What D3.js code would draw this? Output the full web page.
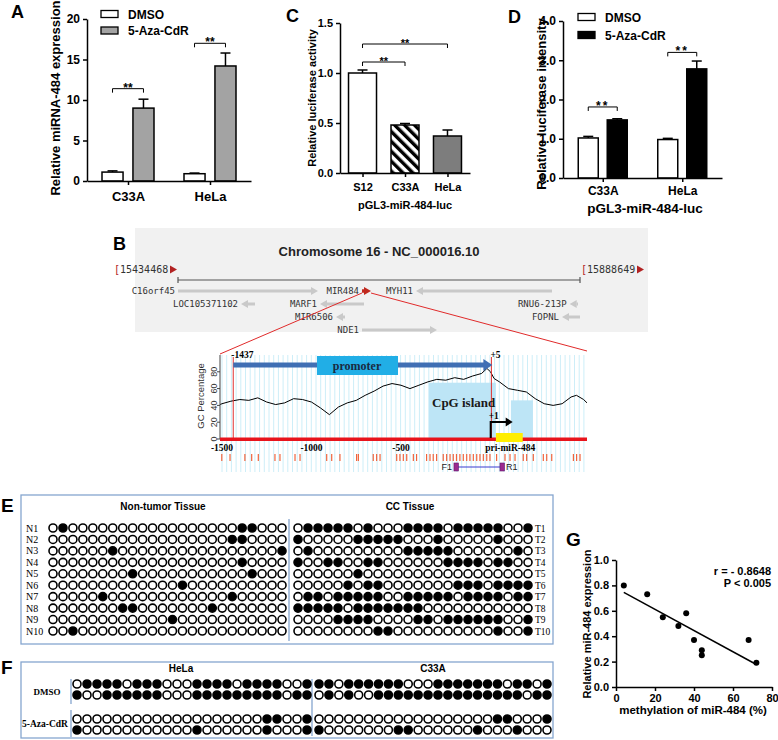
<!DOCTYPE html>
<html>
<head>
<meta charset="utf-8">
<script src="https://cdn.jsdelivr.net/npm/d3@7"></script>
<style>body{margin:0;background:#fff}</style>
</head>
<body>
<div id="chart"></div>
<script>
// ---- panel A: miRNA-484 expression
const aGroups = ["C33A", "HeLa"];
const treatments = ["DMSO", "5-Aza-CdR"];
const aMean = [[1.1, 9.0], [0.9, 14.2]];
const aErr = [[0.15, 1.1], [0.08, 1.6]];
const aTicks = [0, 5, 10, 15, 20];
const aSig = [11.4, 17.0];

// ---- panel C: luciferase activity
const cGroups = ["S12", "C33A", "HeLa"];
const cMean = [1.0, 0.48, 0.37];
const cErr = [0.03, 0.015, 0.06];
const cTicks = [0, 0.5, 1.0, 1.5];
const cSig = [{ a: "S12", b: "C33A", y: 1.11 }, { a: "S12", b: "HeLa", y: 1.29 }];

// ---- panel D: luciferase intensity
const dGroups = ["C33A", "HeLa"];
const dMean = [[1.02, 1.48], [0.98, 2.78]];
const dErr = [[0.04, 0.03], [0.03, 0.2]];
const dTicks = [0, 1, 2, 3, 4];
const dSig = [1.81, 3.2];

// ---- panel B: gene track (genomic coords)
const chrStart = 15434468, chrEnd = 15888649;
const genes = [
  { name: "C16orf45", start: 15434468, end: 15592640, strand: 1, row: 0 },
  { name: "MIR484", start: 15642350, end: 15652520, strand: 1, row: 0 },
  { name: "MYH11", start: 15703360, end: 15857020, strand: -1, row: 0 },
  { name: "LOC105371102", start: 15505650, end: 15521470, strand: -1, row: 1 },
  { name: "MARF1", start: 15594900, end: 15644600, strand: -1, row: 1 },
  { name: "RNU6-213P", start: 15877000, end: 15886400, strand: -1, row: 1 },
  { name: "MIR6506", start: 15613000, end: 15623150, strand: -1, row: 2 },
  { name: "FOPNL", start: 15868300, end: 15888649, strand: -1, row: 2 },
  { name: "NDE1", start: 15642350, end: 15727080, strand: 1, row: 3 }
];
// GC percentage (bp relative to +1)
const gcPos = [-1511, -1500, -1450, -1400, -1350, -1300, -1250, -1200, -1150, -1100,
  -1050, -1000, -950, -900, -850, -800, -750, -700, -650, -600,
  -550, -500, -450, -400, -350, -300, -250, -200, -150, -100,
  -50, -20, 0, 20, 50, 100, 150, 200, 250, 300,
  350, 400, 450, 480, 520, 539];
const gcVal = [41, 42, 45, 47, 46, 49, 44, 41, 43, 48,
  47, 44, 37, 29, 38, 43, 46, 52, 57, 63,
  66, 64, 60, 64, 68, 71, 70, 73, 71, 75,
  78, 84, 80, 72, 68, 60, 58, 56, 48, 42,
  40, 42, 50, 52, 47, 43];
const gcTicks = [0, 20, 40, 60, 80];
const bpTicks = [-1500, -1000, -500];
const cpgSites = [-1501, -1455, -1372, -1334, -1297, -1204, -1176, -1092, -1064, -915, -887, -841,
  -748, -738, -655, -636, -617, -524, -506, -487, -468, -431, -413, -357, -338, -320, -301,
  -264, -245, -226, -208, -190, -171, -152, -133, -115, -96, -77, -59, -40, -21, -3,
  34, 81, 109, 137, 183, 202, 239, 295, 314, 342, 463, 481, 500];
const cpgIslands = [{ from: -344, to: 30, top: 67 }, { from: 114, to: 237, top: 46 }];
const promoter = { from: -1437, to: 5 };
const priMir = { from: 30, to: 180 };
const primers = { f1: -193, r1: 64 };

// ---- panel E: bisulfite sequencing, 1 = methylated
const nLabels = ["N1", "N2", "N3", "N4", "N5", "N6", "N7", "N8", "N9", "N10"];
const tLabels = ["T1", "T2", "T3", "T4", "T5", "T6", "T7", "T8", "T9", "T10"];
const nRows = [
  "010000000000000000011000",
  "000000000000000000110000",
  "000000100000000000000001",
  "000000000000000000010000",
  "000000001000000000001000",
  "000000000000010000000000",
  "000001000000000000100000",
  "000000011000000010000000",
  "000000000000100000000000",
  "001000000000000000000000"
];
const tRows = [
  "011111010001111011111001",
  "100000111110001000001000",
  "010000000001111100000010",
  "100110011000000111101100",
  "000000100000000000000000",
  "000001011000000011101111",
  "011011111001111101111011",
  "111110111111100000000000",
  "000011110000110111111001",
  "000000001100000000001001"
];

// ---- panel F
const fHela = [
  "011110111000111101111001",
  "100111111000111111111011",
  "000000000000000000011001",
  "100000000000100000010001"
];
const fC33a = [
  "110111111000111111101101",
  "010100111111111111111011",
  "000000000000000000110001",
  "100000001100000010001000"
];

// ---- panel G: methylation vs expression
const gMeth = [4, 16, 24, 32, 36, 40, 44, 44, 68, 72];
const gExpr = [0.80, 0.73, 0.55, 0.48, 0.58, 0.37, 0.29, 0.25, 0.37, 0.19];
const gXTicks = [0, 20, 40, 60, 80];
const gYTicks = [0, 0.2, 0.4, 0.6, 0.8, 1.0];

const sans = "'Liberation Sans', Arial, sans-serif";
const serif = "'Liberation Serif', 'Times New Roman', serif";
const mono = "'DejaVu Sans Mono', monospace";

const svg = d3.select("#chart").append("svg")
  .attr("width", 778).attr("height", 740)
  .style("font-family", sans);

const defs = svg.append("defs");
defs.append("pattern")
  .attr("id", "hatch").attr("patternUnits", "userSpaceOnUse")
  .attr("width", 7).attr("height", 7)
  .attr("patternTransform", "rotate(-45)")
  .append("rect").attr("width", 3.4).attr("height", 7).attr("fill", "#000");

//helpers
function letter(t, x, y, size) {
  svg.append("text").attr("x", x).attr("y", y).text(t)
    .style("font-family", sans).style("font-weight", "bold").style("font-size", size + "px");
}
function styleAxis(g, size) {
  g.select(".domain").attr("stroke", "#000").attr("stroke-width", 1.5);
  g.selectAll(".tick line").attr("stroke", "#000").attr("stroke-width", 1.5);
  g.selectAll(".tick text").attr("fill", "#000")
    .style("font-family", sans).style("font-weight", "bold").style("font-size", size + "px");
}
function yLabel(t, x, y, size) {
  svg.append("text").attr("transform", `translate(${x},${y}) rotate(-90)`)
    .attr("text-anchor", "middle").text(t)
    .style("font-weight", "bold").style("font-size", size + "px");
}
function bracket(x1, x2, y, size, spacing) {
  svg.append("path").attr("d", `M${x1},${y + 4}V${y}H${x2}V${y + 4}`)
    .attr("fill", "none").attr("stroke", "#000").attr("stroke-width", 1);
  svg.append("text").attr("x", (x1 + x2) / 2).attr("y", y + 3).attr("text-anchor", "middle")
    .text("**").style("font-weight", "bold").style("font-size", size + "px")
    .style("letter-spacing", spacing + "px");
}
function bar(x, w, y, mean, err, fill) {
  svg.append("line").attr("x1", x + w / 2).attr("x2", x + w / 2)
    .attr("y1", y(mean)).attr("y2", y(mean + err)).attr("stroke", "#000").attr("stroke-width", 1.5);
  svg.append("line").attr("x1", x + w / 2 - 5).attr("x2", x + w / 2 + 5)
    .attr("y1", y(mean + err)).attr("y2", y(mean + err)).attr("stroke", "#000").attr("stroke-width", 1.5);
  svg.append("rect").attr("x", x).attr("width", w)
    .attr("y", y(mean)).attr("height", y(0) - y(mean))
    .attr("fill", fill).attr("stroke", "#000").attr("stroke-width", 1.5);
}
function legend(x, y0, dy, fills, size) {
  treatments.forEach((t, i) => {
    svg.append("rect").attr("x", x).attr("y", y0 + i * dy - 3.5).attr("width", 17).attr("height", 7)
      .attr("fill", fills[i]).attr("stroke", "#000").attr("stroke-width", 1.3);
    svg.append("text").attr("x", x + 27).attr("y", y0 + i * dy + 4.5).text(t)
      .style("font-weight", "bold").style("font-size", size + "px");
  });
}

// ================= panel A
letter("A", 11, 18, 18);
const yA = d3.scaleLinear().domain([0, 20]).range([181, 19]);
const xA = d3.scalePoint().domain(aGroups).range([87, 251]).padding(0.5);
const xAin = d3.scaleBand().domain(treatments).range([-26, 26]).paddingInner(0.32);
const aFill = ["#fff", "#a3a3a3"];
aGroups.forEach((g, i) => {
  treatments.forEach((t, j) => {
    bar(xA(g) + xAin(t), xAin.bandwidth(), yA, aMean[i][j], aErr[i][j], aFill[j]);
  });
  const c0 = xA(g) + xAin(treatments[0]) + xAin.bandwidth() / 2;
  const c1 = xA(g) + xAin(treatments[1]) + xAin.bandwidth() / 2;
  bracket(c0, c1, yA(aSig[i]), 12, 0);
});
svg.append("g").attr("transform", "translate(87,0)")
  .call(d3.axisLeft(yA).tickValues(aTicks).tickSize(4).tickSizeOuter(0))
  .call(styleAxis, 12);
svg.append("g").attr("transform", "translate(0,181)")
  .call(d3.axisBottom(xA).tickSize(4).tickSizeOuter(0).tickPadding(7))
  .call(styleAxis, 13);
yLabel("Relative miRNA-484 expression", 60, 98, 13);
legend(101, 14, 16.5, aFill, 12);

// ================= panel C
letter("C", 286, 22, 18);
const yC = d3.scaleLinear().domain([0, 1.5]).range([173, 23]);
const xC = d3.scalePoint().domain(cGroups).range([340, 470]).padding(0.53);
const cFill = ["#fff", "url(#hatch)", "#7d7d7d"];
cGroups.forEach((g, i) => bar(xC(g) - 14, 28, yC, cMean[i], cErr[i], cFill[i]));
cSig.forEach(s => bracket(xC(s.a), xC(s.b), yC(s.y), 11, 0));
svg.append("g").attr("transform", "translate(340,0)")
  .call(d3.axisLeft(yC).tickValues(cTicks).tickFormat(d3.format(".1f")).tickSize(4).tickSizeOuter(0))
  .call(styleAxis, 11);
svg.append("g").attr("transform", "translate(0,173)")
  .call(d3.axisBottom(xC).tickSize(4).tickSizeOuter(0).tickPadding(6))
  .call(styleAxis, 11);
svg.append("text").attr("x", 405).attr("y", 209).attr("text-anchor", "middle")
  .text("pGL3-miR-484-luc").style("font-weight", "bold").style("font-size", "11px");
yLabel("Relative luciferase activity", 316, 98, 11);

// ================= panel D
letter("D", 508, 23, 18);
const yD = d3.scaleLinear().domain([0, 4]).range([178, 21]);
const xD = d3.scalePoint().domain(dGroups).range([563, 722]).padding(0.5);
const xDin = d3.scaleBand().domain(treatments).range([-24.5, 24.5]).paddingInner(0.31);
const dFill = ["#fff", "#000"];
dGroups.forEach((g, i) => {
  treatments.forEach((t, j) => {
    bar(xD(g) + xDin(t), xDin.bandwidth(), yD, dMean[i][j], dErr[i][j], dFill[j]);
  });
  const c0 = xD(g) + xDin(treatments[0]) + xDin.bandwidth() / 2;
  const c1 = xD(g) + xDin(treatments[1]) + xDin.bandwidth() / 2;
  bracket(c0, c1, yD(dSig[i]), 12, 2);
});
svg.append("g").attr("transform", "translate(563,0)")
  .call(d3.axisLeft(yD).tickValues(dTicks).tickSize(4).tickSizeOuter(0))
  .call(styleAxis, 12);
svg.append("g").attr("transform", "translate(0,178)")
  .call(d3.axisBottom(xD).tickSize(4).tickSizeOuter(0).tickPadding(4))
  .call(styleAxis, 12);
svg.append("text").attr("x", 645).attr("y", 213).attr("text-anchor", "middle")
  .text("pGL3-miR-484-luc").style("font-weight", "bold").style("font-size", "13.5px");
yLabel("Relative luciferase intensity", 546, 104, 13);
legend(578, 17, 18, dFill, 12);

// ================= panel B, gene track
letter("B", 113, 250, 18);
svg.append("rect").attr("x", 135).attr("y", 228).attr("width", 513).attr("height", 104).attr("fill", "#f1f1f1");
svg.append("text").attr("x", 379).attr("y", 256).attr("text-anchor", "middle")
  .text("Chromosome 16 - NC_000016.10").style("font-weight", "bold").style("font-size", "13px").attr("fill", "#222");
const xg = d3.scaleLinear().domain([chrStart, chrEnd]).range([178, 580]);
const rowY = d3.scaleLinear().domain([0, 3]).range([291, 330]);
//coordinates at both ends
[[chrStart, 114], [chrEnd, 581]].forEach(([v, x]) => {
  const t = svg.append("text").attr("x", x).attr("y", 273).style("font-family", mono).style("font-size", "10px");
  t.append("tspan").attr("fill", "#b22222").text("[");
  t.append("tspan").attr("fill", "#333").text(v);
  svg.append("path").attr("d", `M${x + 56},265.5v8l7,-4z`).attr("fill", "#b22222");
});
svg.append("path").attr("d", `M${xg(chrStart)},277v6M${xg(chrStart)},280H${xg(chrEnd)}M${xg(chrEnd)},277v6`)
  .attr("stroke", "#555").attr("stroke-width", 1.2).attr("fill", "none");
genes.forEach(g => {
  const x0 = xg(g.start), x1 = xg(g.end), y = rowY(g.row);
  const red = g.name === "MIR484";
  const col = red ? "#c0281e" : "#c9c9c9";
  const tip = g.strand > 0 ? x1 : x0, tail = g.strand > 0 ? x0 : x1;
  const hl = Math.min(7, Math.abs(x1 - x0));
  const base = tip - g.strand * hl;
  svg.append("line").attr("x1", tail).attr("x2", base).attr("y1", y).attr("y2", y)
    .attr("stroke", col).attr("stroke-width", red ? 3.5 : 3);
  svg.append("path").attr("d", `M${tip},${y}L${base},${y - 4}L${base},${y + 4}Z`).attr("fill", col);
  svg.append("text").attr("x", x0 - 3).attr("y", y + 3).attr("text-anchor", "end").text(g.name)
    .style("font-family", mono).style("font-size", "9px").attr("fill", "#333");
});

// ================= panel B, promoter GC plot
const xs = d3.scaleLinear().domain([-1511, 539]).range([220, 587]);
const ys = d3.scaleLinear().domain([0, 100]).range([439, 355]);
const mir = genes.find(g => g.name === "MIR484");
svg.append("path")
  .attr("d", `M${xg(mir.start)},293L220,354M${xg(mir.end)},293L587,351`)
  .attr("stroke", "#e02a2a").attr("stroke-width", 1).attr("fill", "none");
//light vertical grid
svg.append("g").selectAll("line").data(d3.range(222, 587, 4.7)).join("line")
  .attr("x1", d => d).attr("x2", d => d).attr("y1", 355).attr("y2", 472)
  .attr("stroke", "#cdeef8").attr("stroke-width", 1);
svg.append("g").selectAll("rect").data(cpgIslands).join("rect")
  .attr("x", d => xs(d.from)).attr("width", d => xs(d.to) - xs(d.from))
  .attr("y", d => ys(d.top)).attr("height", d => ys(0) - ys(d.top))
  .attr("fill", "#bde5f6");
svg.append("path").datum(gcPos.map((p, i) => [p, gcVal[i]]))
  .attr("d", d3.line().x(d => xs(d[0])).y(d => ys(d[1])))
  .attr("fill", "none").attr("stroke", "#000").attr("stroke-width", 1);
//promoter boundaries
[promoter.from, promoter.to].forEach(p => {
  svg.append("line").attr("x1", xs(p)).attr("x2", xs(p)).attr("y1", 357).attr("y2", 439)
    .attr("stroke", "#e03030").attr("stroke-width", 1);
});
svg.append("line").attr("x1", xs(promoter.from)).attr("x2", xs(promoter.to) - 7)
  .attr("y1", 365).attr("y2", 365).attr("stroke", "#3f6fb4").attr("stroke-width", 5);
svg.append("path").attr("d", `M${xs(promoter.to) + 1},365l-9,-6v12z`).attr("fill", "#3f6fb4");
svg.append("rect").attr("x", 317).attr("y", 356).attr("width", 81).attr("height", 19).attr("fill", "#21aee6");
svg.append("text").attr("x", 357).attr("y", 370).attr("text-anchor", "middle").text("promoter")
  .style("font-family", serif).style("font-weight", "bold").style("font-size", "12px").attr("fill", "#1a2a40");
svg.append("text").attr("x", xs(promoter.from) - 2).attr("y", 358).text("-1437")
  .style("font-family", serif).style("font-weight", "bold").style("font-size", "9.5px");
svg.append("text").attr("x", xs(promoter.to) - 1).attr("y", 358).text("+5")
  .style("font-family", serif).style("font-weight", "bold").style("font-size", "9.5px");
svg.append("text").attr("x", 432).attr("y", 407).text("CpG  island")
  .style("font-family", serif).style("font-weight", "bold").style("font-size", "13px").attr("fill", "#1a1a1a");
//y axis
svg.append("line").attr("x1", 220).attr("x2", 220).attr("y1", 355).attr("y2", 439).attr("stroke", "#444");
gcTicks.forEach(t => {
  svg.append("line").attr("x1", 217).attr("x2", 220).attr("y1", ys(t)).attr("y2", ys(t)).attr("stroke", "#444");
  svg.append("text").attr("transform", `translate(217,${ys(t)}) rotate(-90)`).attr("text-anchor", "middle")
    .text(t).style("font-size", "9px").attr("fill", "#333");
});
svg.append("text").attr("transform", "translate(204,396) rotate(-90)").attr("text-anchor", "middle")
  .text("GC Percentage").style("font-size", "9.5px").attr("fill", "#333");
//red x axis, pri-miR and TSS
svg.append("rect").attr("x", 220).attr("y", 437.5).attr("width", 367).attr("height", 3.5).attr("fill", "#e8141c");
svg.append("rect").attr("x", xs(priMir.from)).attr("width", xs(priMir.to) - xs(priMir.from))
  .attr("y", 433).attr("height", 9).attr("fill", "#ffee00");
svg.append("path").attr("d", `M${xs(1)},438V422H${xs(1) + 16}`)
  .attr("fill", "none").attr("stroke", "#000").attr("stroke-width", 2);
svg.append("path").attr("d", `M${xs(1) + 22},422l-7,-4.5v9z`).attr("fill", "#000");
svg.append("text").attr("x", xs(1) - 2).attr("y", 419).text("+1")
  .style("font-family", serif).style("font-weight", "bold").style("font-size", "9.5px");
bpTicks.forEach(t => {
  svg.append("text").attr("x", xs(t)).attr("y", 451).attr("text-anchor", "middle").text(t)
    .style("font-family", serif).style("font-weight", "bold").style("font-size", "9.5px");
});
svg.append("text").attr("x", xs(110)).attr("y", 451).attr("text-anchor", "middle").text("pri-miR-484")
  .style("font-family", serif).style("font-weight", "bold").style("font-size", "9.5px");
svg.append("g").selectAll("line").data(cpgSites).join("line")
  .attr("x1", d => xs(d)).attr("x2", d => xs(d)).attr("y1", 454).attr("y2", 461)
  .attr("stroke", "#f0643c").attr("stroke-width", 1.2);
svg.append("line").attr("x1", xs(primers.f1)).attr("x2", xs(primers.r1)).attr("y1", 467).attr("y2", 467)
  .attr("stroke", "#3b3bd0").attr("stroke-width", 1);
[primers.f1, primers.r1].forEach(p => {
  svg.append("rect").attr("x", xs(p) - 2).attr("y", 463).attr("width", 4.5).attr("height", 8)
    .attr("fill", "#9c2a8e").attr("stroke", "#5a1a70").attr("stroke-width", 0.6);
});
svg.append("text").attr("x", xs(primers.f1) - 4).attr("y", 470).attr("text-anchor", "end").text("F1")
  .style("font-size", "9px").attr("fill", "#222");
svg.append("text").attr("x", xs(primers.r1) + 4).attr("y", 470).text("R1")
  .style("font-size", "9px").attr("fill", "#222");

// ================= methylation dots
function dotRows(rows, xScale, yList) {
  rows.forEach((r, i) => {
    svg.append("g").selectAll("circle").data(r.split("")).join("circle")
      .attr("cx", (d, j) => xScale(j)).attr("cy", yList(i)).attr("r", 4)
      .attr("fill", d => d === "1" ? "#000" : "#fff")
      .attr("stroke", "#000").attr("stroke-width", 1.6);
  });
}
const boxCol = "#86a6cf";

// panel E
letter("E", 1, 512, 19);
svg.append("rect").attr("x", 21).attr("y", 495).attr("width", 532).attr("height", 149)
  .attr("fill", "none").attr("stroke", boxCol).attr("stroke-width", 1.3);
svg.append("line").attr("x1", 289).attr("x2", 289).attr("y1", 519).attr("y2", 641).attr("stroke", boxCol).attr("stroke-width", 1.3);
svg.append("text").attr("x", 163).attr("y", 510).attr("text-anchor", "middle").text("Non-tumor Tissue")
  .style("font-weight", "bold").style("font-size", "10px");
svg.append("text").attr("x", 410).attr("y", 510).attr("text-anchor", "middle").text("CC Tissue")
  .style("font-weight", "bold").style("font-size", "10px");
const yE = d3.scaleLinear().domain([0, 9]).range([528, 631]);
dotRows(nRows, d3.scaleLinear().domain([0, 23]).range([53, 282]), yE);
dotRows(tRows, d3.scaleLinear().domain([0, 23]).range([298, 528]), yE);
nLabels.forEach((t, i) => svg.append("text").attr("x", 26).attr("y", yE(i) + 3.5).text(t)
  .style("font-family", serif).style("font-size", "10px"));
tLabels.forEach((t, i) => svg.append("text").attr("x", 535).attr("y", yE(i) + 3.5).text(t)
  .style("font-family", serif).style("font-size", "9.5px"));

// panel F
letter("F", 1, 674, 19);
svg.append("rect").attr("x", 21).attr("y", 662).attr("width", 532).attr("height", 76)
  .attr("fill", "none").attr("stroke", boxCol).attr("stroke-width", 1.3);
svg.append("path").attr("d", "M71,679V704M71,710V737M312,679V736")
  .attr("stroke", boxCol).attr("stroke-width", 1.3);
svg.append("text").attr("x", 181).attr("y", 672).attr("text-anchor", "middle").text("HeLa")
  .style("font-weight", "bold").style("font-size", "10px");
svg.append("text").attr("x", 433).attr("y", 672).attr("text-anchor", "middle").text("C33A")
  .style("font-weight", "bold").style("font-size", "10px");
const fRowY = [684, 695, 719, 730];
dotRows(fHela, d3.scaleLinear().domain([0, 23]).range([77, 307]), i => fRowY[i]);
dotRows(fC33a, d3.scaleLinear().domain([0, 23]).range([319, 547]), i => fRowY[i]);
svg.append("text").attr("x", 47).attr("y", 695).attr("text-anchor", "middle").text(treatments[0])
  .style("font-family", serif).style("font-weight", "bold").style("font-size", "9px");
svg.append("text").attr("x", 45).attr("y", 727).attr("text-anchor", "middle").text(treatments[1])
  .style("font-family", serif).style("font-weight", "bold").style("font-size", "9.5px");

// ================= panel G
letter("G", 566, 546, 19);
const xG = d3.scaleLinear().domain([0, 80]).range([616, 772]);
const yG = d3.scaleLinear().domain([0, 1]).range([687, 560]);
svg.append("g").attr("transform", "translate(0,687)")
  .call(d3.axisBottom(xG).tickValues(gXTicks).tickSize(4).tickSizeOuter(0).tickPadding(3))
  .call(styleAxis, 11);
svg.append("g").attr("transform", "translate(616,0)")
  .call(d3.axisLeft(yG).tickValues(gYTicks).tickFormat(d3.format(".1f")).tickSize(4).tickSizeOuter(0))
  .call(styleAxis, 11);
//least squares fit
const mx = d3.mean(gMeth), my = d3.mean(gExpr);
const slope = d3.sum(gMeth, (x, i) => (x - mx) * (gExpr[i] - my)) / d3.sum(gMeth, x => (x - mx) ** 2);
const icpt = my - slope * mx;
const [xLo, xHi] = d3.extent(gMeth);
svg.append("line").attr("x1", xG(xLo)).attr("x2", xG(xHi))
  .attr("y1", yG(icpt + slope * xLo)).attr("y2", yG(icpt + slope * xHi))
  .attr("stroke", "#000").attr("stroke-width", 1.5);
svg.append("g").selectAll("circle").data(gMeth).join("circle")
  .attr("cx", d => xG(d)).attr("cy", (d, i) => yG(gExpr[i])).attr("r", 3).attr("fill", "#000");
svg.append("text").attr("x", 771).attr("y", 575).attr("text-anchor", "end").text("r = - 0.8648")
  .style("font-weight", "bold").style("font-size", "11px");
svg.append("text").attr("x", 771).attr("y", 587).attr("text-anchor", "end").text("P < 0.005")
  .style("font-weight", "bold").style("font-size", "11px");
svg.append("text").attr("x", 693).attr("y", 714).attr("text-anchor", "middle").text("methylation of miR-484 (%)")
  .style("font-weight", "bold").style("font-size", "11.5px");
yLabel("Relative miR-484 expression", 591, 624, 11);
</script>
</body>
</html>
